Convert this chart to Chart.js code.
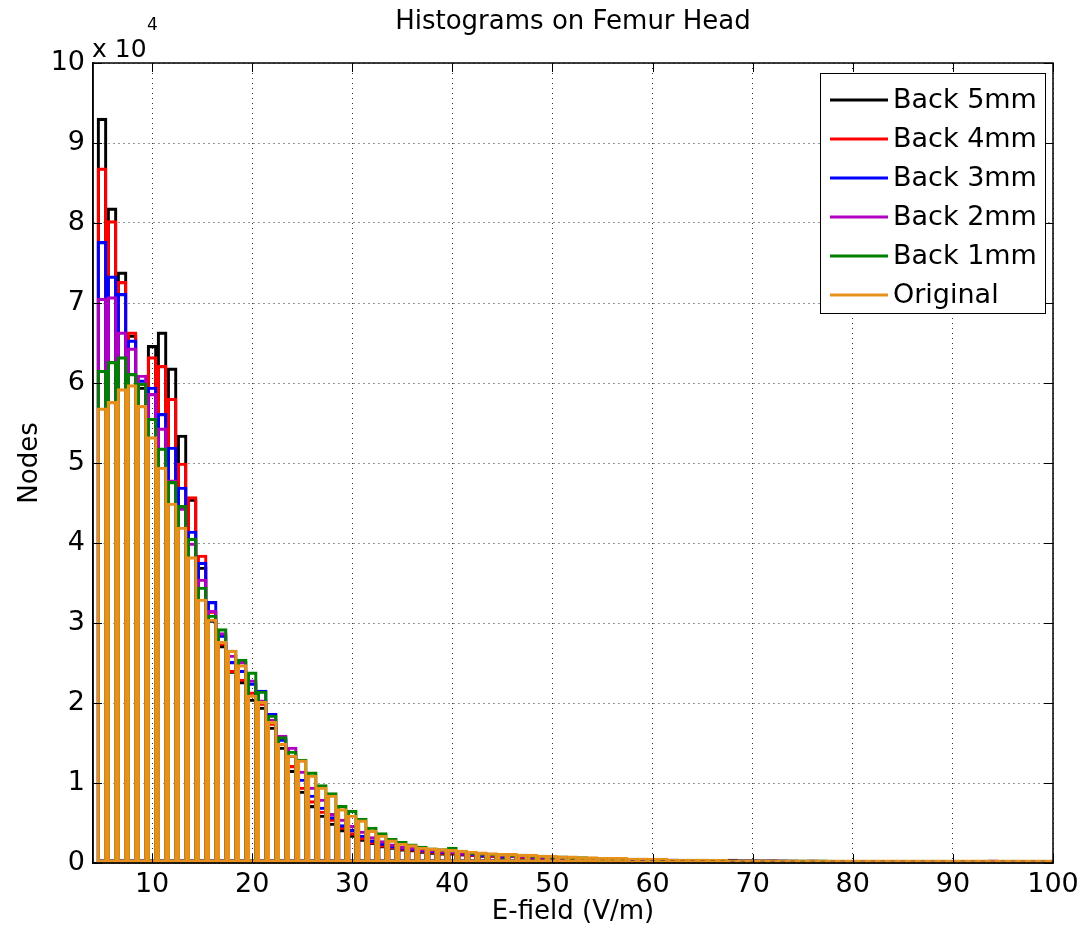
<!DOCTYPE html>
<html>
<head>
<meta charset="utf-8">
<script src="https://cdn.jsdelivr.net/npm/chart.js@4.4.1/dist/chart.umd.min.js"></script>
<style>
  html, body { margin: 0; padding: 0; background: #fff; }
  #wrap { width: 1086px; height: 938px; }
</style>
</head>
<body>
<div id="wrap"><canvas id="histChart" width="1086" height="938"></canvas></div>
<script>
// histogram bin centres, E-field in V/m (bins 5..100, width 1)
const binCenters = Array.from({ length: 96 }, (_, i) => 5 + i);

// node counts per bin, in units of 10^4
const back5mm = [
  9.31, 8.19, 7.39, 6.60, 5.95, 6.47, 6.64, 6.19, 5.35, 4.55,
  3.70, 3.04, 2.72, 2.40, 2.27, 2.05, 1.95, 1.70, 1.45, 1.16,
  0.90, 0.72, 0.60, 0.50, 0.42, 0.35, 0.30, 0.26, 0.22, 0.20,
  0.18, 0.17, 0.15, 0.14, 0.13, 0.13, 0.12, 0.11, 0.10, 0.10,
  0.09, 0.10, 0.09, 0.08, 0.08, 0.07, 0.07, 0.06, 0.06, 0.06,
  0.05, 0.06, 0.05, 0.05, 0.05, 0.05, 0.05, 0.04, 0.04, 0.04,
  0.04, 0.04, 0.04, 0.05, 0.04, 0.04, 0.03, 0.04, 0.03, 0.03,
  0.03, 0.03, 0.03, 0.03, 0.03, 0.03, 0.03, 0.03, 0.03, 0.03,
  0.03, 0.03, 0.03, 0.03, 0.03, 0.03, 0.03, 0.03, 0.03, 0.03,
  0.03, 0.03, 0.03, 0.03, 0.03, 0.03
];
const back4mm = [
  8.69, 8.03, 7.27, 6.64, 6.00, 6.33, 6.22, 5.81, 5.00, 4.58,
  3.85, 3.15, 2.75, 2.41, 2.30, 2.14, 2.00, 1.75, 1.50, 1.22,
  0.95, 0.78, 0.65, 0.55, 0.45, 0.38, 0.32, 0.27, 0.23, 0.21,
  0.19, 0.18, 0.16, 0.15, 0.14, 0.14, 0.12, 0.11, 0.11, 0.10,
  0.10, 0.10, 0.09, 0.09, 0.08, 0.08, 0.07, 0.07, 0.06, 0.06,
  0.06, 0.05, 0.06, 0.05, 0.05, 0.05, 0.05, 0.04, 0.04, 0.04,
  0.04, 0.04, 0.04, 0.04, 0.04, 0.04, 0.04, 0.04, 0.03, 0.03,
  0.03, 0.03, 0.03, 0.03, 0.03, 0.03, 0.03, 0.03, 0.03, 0.03,
  0.03, 0.03, 0.03, 0.03, 0.03, 0.03, 0.03, 0.03, 0.03, 0.03,
  0.03, 0.03, 0.03, 0.03, 0.03, 0.03
];
const back3mm = [
  7.77, 7.34, 7.12, 6.54, 6.04, 5.95, 5.62, 5.20, 4.70, 4.15,
  3.76, 3.27, 2.85, 2.52, 2.41, 2.25, 2.16, 1.87, 1.55, 1.35,
  1.05, 0.85, 0.70, 0.58, 0.48, 0.42, 0.35, 0.29, 0.25, 0.22,
  0.20, 0.19, 0.17, 0.16, 0.15, 0.15, 0.13, 0.12, 0.11, 0.11,
  0.10, 0.10, 0.10, 0.09, 0.09, 0.08, 0.08, 0.07, 0.07, 0.06,
  0.06, 0.07, 0.06, 0.05, 0.05, 0.05, 0.05, 0.05, 0.04, 0.04,
  0.04, 0.04, 0.04, 0.04, 0.04, 0.04, 0.04, 0.04, 0.04, 0.03,
  0.03, 0.03, 0.03, 0.03, 0.03, 0.03, 0.03, 0.03, 0.03, 0.03,
  0.03, 0.03, 0.03, 0.03, 0.03, 0.03, 0.03, 0.03, 0.03, 0.03,
  0.03, 0.03, 0.03, 0.03, 0.03, 0.03
];
const back2mm = [
  7.06, 7.08, 6.64, 6.44, 6.10, 5.87, 5.44, 4.79, 4.44, 4.00,
  3.55, 3.16, 2.88, 2.60, 2.52, 2.29, 2.04, 1.80, 1.60, 1.45,
  1.15, 0.95, 0.80, 0.62, 0.55, 0.47, 0.40, 0.33, 0.28, 0.24,
  0.21, 0.20, 0.18, 0.17, 0.16, 0.15, 0.14, 0.13, 0.12, 0.11,
  0.11, 0.10, 0.10, 0.09, 0.09, 0.08, 0.08, 0.07, 0.07, 0.07,
  0.06, 0.06, 0.06, 0.05, 0.05, 0.05, 0.05, 0.05, 0.04, 0.04,
  0.04, 0.04, 0.04, 0.04, 0.04, 0.04, 0.04, 0.04, 0.04, 0.04,
  0.03, 0.04, 0.03, 0.03, 0.03, 0.03, 0.03, 0.03, 0.03, 0.03,
  0.03, 0.03, 0.03, 0.03, 0.03, 0.03, 0.03, 0.03, 0.03, 0.04,
  0.03, 0.03, 0.03, 0.03, 0.03, 0.03
];
const back1mm = [
  6.16, 6.27, 6.33, 6.12, 6.00, 5.56, 5.19, 4.77, 4.47, 4.06,
  3.45, 3.10, 2.93, 2.66, 2.55, 2.39, 2.15, 1.85, 1.58, 1.40,
  1.30, 1.14, 0.98, 0.88, 0.72, 0.66, 0.56, 0.45, 0.38, 0.31,
  0.27, 0.24, 0.21, 0.19, 0.18, 0.20, 0.16, 0.14, 0.13, 0.12,
  0.12, 0.11, 0.11, 0.10, 0.10, 0.09, 0.09, 0.08, 0.08, 0.07,
  0.07, 0.07, 0.06, 0.06, 0.06, 0.05, 0.05, 0.05, 0.05, 0.05,
  0.05, 0.04, 0.04, 0.04, 0.04, 0.04, 0.04, 0.04, 0.04, 0.04,
  0.04, 0.04, 0.04, 0.03, 0.03, 0.03, 0.03, 0.03, 0.03, 0.03,
  0.03, 0.03, 0.03, 0.03, 0.03, 0.03, 0.03, 0.03, 0.03, 0.03,
  0.03, 0.03, 0.03, 0.03, 0.03, 0.03
];
const original = [
  5.69, 5.77, 5.93, 5.98, 5.72, 5.33, 4.95, 4.50, 4.20, 3.83,
  3.30, 3.05, 2.77, 2.66, 2.48, 2.10, 2.02, 1.77, 1.50, 1.35,
  1.29, 1.10, 0.95, 0.85, 0.68, 0.60, 0.54, 0.41, 0.35, 0.29,
  0.25, 0.23, 0.20, 0.19, 0.18, 0.17, 0.16, 0.15, 0.14, 0.13,
  0.12, 0.12, 0.11, 0.11, 0.10, 0.10, 0.09, 0.09, 0.08, 0.08,
  0.07, 0.07, 0.07, 0.06, 0.06, 0.06, 0.06, 0.05, 0.05, 0.05,
  0.05, 0.05, 0.05, 0.04, 0.04, 0.04, 0.04, 0.04, 0.04, 0.04,
  0.04, 0.04, 0.04, 0.04, 0.04, 0.04, 0.04, 0.04, 0.04, 0.04,
  0.04, 0.04, 0.04, 0.04, 0.04, 0.04, 0.04, 0.04, 0.04, 0.04,
  0.04, 0.04, 0.04, 0.04, 0.04, 0.04
];

const seriesLabels = ['Back 5mm', 'Back 4mm', 'Back 3mm', 'Back 2mm', 'Back 1mm', 'Original'];
const seriesColors = ['#000000', '#ff0000', '#0000ff', '#b000c0', '#008000', '#e8901c'];
const seriesValues = [back5mm, back4mm, back3mm, back2mm, back1mm, original];

const xTicks = [10, 20, 30, 40, 50, 60, 70, 80, 90, 100];
const yTicks = [0, 1, 2, 3, 4, 5, 6, 7, 8, 9, 10];

const FONT = '"DejaVu Sans", "Liberation Sans", Arial, sans-serif';

// axes box, inward ticks, legend and texts (MATLAB look)
const decorPlugin = {
  id: 'decor',
  afterDraw(chart) {
    const ctx = chart.ctx;
    const a = chart.chartArea;
    const xs = chart.scales.x;
    const ys = chart.scales.y;
    ctx.save();

    ctx.strokeStyle = '#000';
    ctx.lineWidth = 1;
    ctx.beginPath();
    yTicks.forEach(v => {
      const y = Math.round(ys.getPixelForValue(v)) + 0.5;
      ctx.moveTo(a.left, y); ctx.lineTo(a.left + 9, y);
      ctx.moveTo(a.right, y); ctx.lineTo(a.right - 9, y);
    });
    xTicks.forEach(v => {
      const x = Math.round(xs.getPixelForValue(v)) + 0.5;
      ctx.moveTo(x, a.bottom); ctx.lineTo(x, a.bottom - 9);
      ctx.moveTo(x, a.top); ctx.lineTo(x, a.top + 9);
    });
    ctx.stroke();

    ctx.lineWidth = 1.5;
    ctx.strokeRect(a.left, a.top, a.right - a.left, a.bottom - a.top);

    // legend box
    const lx = a.right - 233, ly = a.top + 10, lw = 225, lh = 240;
    ctx.fillStyle = '#fff';
    ctx.fillRect(lx, ly, lw, lh);
    ctx.lineWidth = 1;
    ctx.strokeStyle = '#000';
    ctx.strokeRect(lx + 0.5, ly + 0.5, lw, lh);
    ctx.font = '27px ' + FONT;
    ctx.textBaseline = 'middle';
    ctx.textAlign = 'left';
    seriesLabels.forEach((lab, i) => {
      const y = ly + 27 + i * 39;
      ctx.strokeStyle = seriesColors[i];
      ctx.lineWidth = 3;
      ctx.beginPath();
      ctx.moveTo(lx + 10, y);
      ctx.lineTo(lx + 68, y);
      ctx.stroke();
      ctx.fillStyle = '#000';
      ctx.fillText(lab, lx + 73, y + 1);
    });

    ctx.fillStyle = '#000';
    ctx.textAlign = 'center';
    ctx.font = '26px ' + FONT;
    ctx.fillText('Histograms on Femur Head', 573, 22);
    ctx.fillText('E-field (V/m)', (a.left + a.right) / 2, 912);

    ctx.save();
    ctx.translate(30, (a.top + a.bottom) / 2);
    ctx.rotate(-Math.PI / 2);
    ctx.fillText('Nodes', 0, 0);
    ctx.restore();

    ctx.textAlign = 'left';
    ctx.textBaseline = 'alphabetic';
    ctx.font = '25px ' + FONT;
    ctx.fillText('x 10', a.left - 1, 57);
    ctx.font = '17px ' + FONT;
    ctx.fillText('4', a.left + 54, 30);

    ctx.restore();
  }
};

const ctx = document.getElementById('histChart').getContext('2d');
new Chart(ctx, {
  type: 'bar',
  data: {
    datasets: seriesLabels.map((label, i) => ({
      label: label,
      data: binCenters.map((x, j) => ({ x: x, y: seriesValues[i][j] })),
      backgroundColor: 'rgba(0,0,0,0)',
      borderColor: seriesColors[i],
      borderWidth: 2.5,
      borderSkipped: false,
      barPercentage: 1,
      categoryPercentage: 1,
      grouped: false,
      order: seriesLabels.length - 1 - i,
      clip: 0
    }))
  },
  options: {
    responsive: false,
    devicePixelRatio: 1,
    animation: false,
    layout: { padding: { top: 63, right: 33, left: 0, bottom: 0 } },
    plugins: {
      legend: { display: false },
      tooltip: { enabled: false },
      title: { display: false }
    },
    scales: {
      x: {
        type: 'linear',
        min: 4.1,
        max: 100,
        offset: false,
        afterBuildTicks: s => { s.ticks = xTicks.map(v => ({ value: v })); },
        afterFit: s => { s.height = 75; },
        ticks: {
          color: '#000',
          font: { family: FONT, size: 27 },
          padding: 6,
          maxRotation: 0
        },
        grid: { color: '#333', lineWidth: 1, drawTicks: false, offset: false },
        border: { display: true, color: '#000', width: 1.5, dash: [1, 4] }
      },
      y: {
        min: 0,
        max: 10,
        afterBuildTicks: s => { s.ticks = yTicks.map(v => ({ value: v })); },
        afterFit: s => { s.width = 93; },
        ticks: {
          color: '#000',
          font: { family: FONT, size: 27 },
          padding: 8
        },
        grid: { color: '#333', lineWidth: 1, drawTicks: false },
        border: { display: true, color: '#000', width: 1.5, dash: [1, 4] }
      }
    }
  },
  plugins: [decorPlugin]
});
</script>
</body>
</html>
